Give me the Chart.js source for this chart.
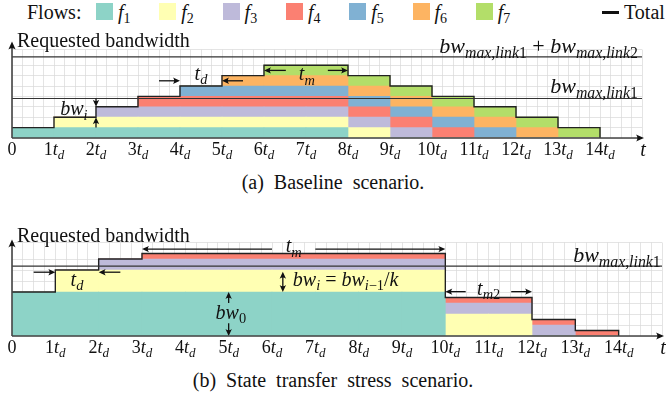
<!DOCTYPE html>
<html>
<head>
<meta charset="utf-8">
<script src="https://cdn.jsdelivr.net/npm/chart.js@4.4.1/dist/chart.umd.min.js"></script>
<style>
  body { margin: 0; background: #fff; }
  #page { position: relative; width: 666px; height: 400px; overflow: hidden;
          font-family: "Liberation Serif", "Times New Roman", serif; color: #111; }
  .abs { position: absolute; white-space: nowrap; }
  #legend .txt { top: 0; font-size: 20px; line-height: 24px; }
  #legend .swatch { top: 3px; width: 17px; height: 17px; }
  sub { font-size: 14px; vertical-align: -4px; line-height: 0; }
  .caption { font-size: 20px; line-height: 24px; width: 666px; text-align: center; word-spacing: 5px; }
  .box { position: absolute; left: 0; width: 666px; }
</style>
</head>
<body>
<div id="page">
  <div id="legend">
    <span class="abs txt" style="left:27px">Flows:</span>
    <span class="abs" style="left:602px; top:11px; width:17px; height:2.5px; background:#111"></span>
    <span class="abs txt" style="left:624px">Total</span>
  </div>
  <div class="box" style="top:25px; height:145px"><canvas id="baseChart"></canvas></div>
  <div class="abs caption" style="left:0; top:170px">(a) Baseline scenario.</div>
  <div class="box" style="top:215px; height:150px"><canvas id="stressChart"></canvas></div>
  <div class="abs caption" style="left:0; top:368px">(b) State transfer stress scenario.</div>
</div>
<script>
// time ticks, in units of t_d
const tdTicks = [0, 1, 2, 3, 4, 5, 6, 7, 8, 9, 10, 11, 12, 13, 14];

const flowNames = ["1", "2", "3", "4", "5", "6", "7"];
const flowColors = ["#8dd3c7", "#ffffb3", "#bebada", "#fb8072", "#80b1d3", "#fdb462", "#b3de69"];

// (a) baseline: requested bandwidth per flow, one value per t_d interval (0-1, 1-2, ... 13-14)
const baseF1 = [1, 1, 1, 1, 1, 1, 1, 1, 0, 0, 0, 0, 0, 0];
const baseF2 = [0, 1, 1, 1, 1, 1, 1, 1, 1, 0, 0, 0, 0, 0];
const baseF3 = [0, 0, 1, 1, 1, 1, 1, 1, 1, 1, 0, 0, 0, 0];
const baseF4 = [0, 0, 0, 1, 1, 1, 1, 1, 1, 1, 1, 0, 0, 0];
const baseF5 = [0, 0, 0, 0, 1, 1, 1, 1, 1, 1, 1, 1, 0, 0];
const baseF6 = [0, 0, 0, 0, 0, 1, 1, 1, 1, 1, 1, 1, 1, 0];
const baseF7 = [0, 0, 0, 0, 0, 0, 1, 1, 1, 1, 1, 1, 1, 1];
// total at each tick 0..14 (held until the next tick)
const baseTotal = [1, 2, 3, 4, 5, 6, 7, 7, 6, 5, 4, 3, 2, 1, 0];
const baseLink1 = 3.8;
const baseLink12 = 7.8;

// (b) state transfer stress
const stressF1 = [4, 4, 4, 4, 4, 4, 4, 4, 4, 4, 0, 0, 0, 0];
const stressF2 = [0, 2, 2, 2, 2, 2, 2, 2, 2, 2, 2, 2, 0, 0];
const stressF3 = [0, 0, 1, 1, 1, 1, 1, 1, 1, 1, 1, 1, 1, 0];
const stressF4 = [0, 0, 0, 0.5, 0.5, 0.5, 0.5, 0.5, 0.5, 0.5, 0.5, 0.5, 0.5, 0.5];
const stressTotal = [4, 6, 7, 7.5, 7.5, 7.5, 7.5, 7.5, 7.5, 7.5, 3.5, 3.5, 1.5, 0.5, 0];
const stressLink1 = 6.35;

const SERIF = '"Liberation Serif", "Times New Roman", serif';

// legend
const legendBox = document.getElementById("legend");
flowColors.forEach(function (color, i) {
  const sw = document.createElement("span");
  sw.className = "abs swatch";
  sw.style.left = (96 + i * 63.3) + "px";
  sw.style.background = color;
  legendBox.appendChild(sw);
  const lb = document.createElement("span");
  lb.className = "abs txt";
  lb.style.left = (118 + i * 63.3) + "px";
  lb.innerHTML = "<i>f</i><sub>" + flowNames[i] + "</sub>";
  legendBox.appendChild(lb);
});

// little math typesetter: segments of [text, style], style r / i / s (italic sub) / sr (roman sub)
function segFont(style, size) {
  const sub = style === "s" || style === "sr";
  const it = style === "i" || style === "s";
  const px = sub ? Math.round(size * 7.2) / 10 : size;
  return (it ? "italic " : "") + px + "px " + SERIF;
}
function mathWidth(ctx, segs, size) {
  let w = 0;
  segs.forEach(function (s) { ctx.font = segFont(s[1], size); w += ctx.measureText(s[0]).width; });
  return w;
}
function drawMath(ctx, segs, x, y, size, align) {
  const w = mathWidth(ctx, segs, size);
  let cx = align === "center" ? x - w / 2 : align === "right" ? x - w : x;
  ctx.textAlign = "left";
  ctx.textBaseline = "alphabetic";
  segs.forEach(function (s) {
    ctx.font = segFont(s[1], size);
    const dy = (s[1] === "s" || s[1] === "sr") ? size * 0.22 : 0;
    ctx.fillText(s[0], cx, y + dy);
    cx += ctx.measureText(s[0]).width;
  });
}
function arrow(ctx, x1, y1, x2, y2, L, W) {
  L = L || 7; W = W || 3.2;
  const ang = Math.atan2(y2 - y1, x2 - x1);
  ctx.beginPath();
  ctx.moveTo(x1, y1);
  ctx.lineTo(x2 - Math.cos(ang) * L * 0.7, y2 - Math.sin(ang) * L * 0.7);
  ctx.stroke();
  ctx.save();
  ctx.translate(x2, y2);
  ctx.rotate(ang);
  ctx.beginPath();
  ctx.moveTo(0, 0);
  ctx.lineTo(-L, -W);
  ctx.quadraticCurveTo(-L * 0.65, 0, -L, W);
  ctx.closePath();
  ctx.fill();
  ctx.restore();
}

const T_D = [["t", "i"], ["d", "s"]];
const T_M = [["t", "i"], ["m", "s"]];
const BW_LINK1 = [["bw", "i"], ["max,link", "s"], ["1", "sr"]];
const BW_LINK2 = [["bw", "i"], ["max,link", "s"], ["2", "sr"]];

function makeSketch(notes) {
  return {
    id: "sketch",
    afterDatasetsDraw: function (chart) {
      const ctx = chart.ctx;
      const area = chart.chartArea;
      const xs = chart.scales.x;
      const ys = chart.scales.y;
      const px = function (v) { return xs.getPixelForValue(v); };
      const py = function (v) { return ys.getPixelForValue(v); };
      ctx.save();
      ctx.fillStyle = "#111";

      // capacity lines
      ctx.strokeStyle = "#333";
      ctx.lineWidth = 1.2;
      notes.hlines.forEach(function (h) {
        ctx.beginPath();
        ctx.moveTo(area.left, py(h.value));
        ctx.lineTo(area.right, py(h.value));
        ctx.stroke();
        drawMath(ctx, h.segs, px(h.labelX), py(h.value) + h.dy, 22, "right");
      });

      // annotation arrows and labels
      ctx.strokeStyle = "#111";
      ctx.lineWidth = 1.3;
      notes.arrows.forEach(function (a) {
        arrow(ctx, px(a[0]), py(a[1]), px(a[2]), py(a[3]));
      });
      notes.texts.forEach(function (t) {
        drawMath(ctx, t.segs, px(t.x), py(t.y) + (t.dy || 0), 20, t.align);
      });

      // axes with arrow heads
      ctx.strokeStyle = "#444";
      ctx.fillStyle = "#111";
      ctx.lineWidth = 1.6;
      arrow(ctx, area.left, area.bottom, area.right + 2, area.bottom, 8, 3.6);
      arrow(ctx, area.left, area.bottom, area.left, area.top - notes.yArrow, 8, 3.6);

      // tick labels n t_d
      tdTicks.forEach(function (k) {
        const segs = k === 0 ? [["0", "r"]] : [[String(k), "r"]].concat(T_D);
        drawMath(ctx, segs, px(k), area.bottom + 17, 18, "center");
      });
      drawMath(ctx, [["t", "i"]], area.right + 1, area.bottom + 18, 20, "center");

      // axis title
      ctx.font = "20px " + SERIF;
      ctx.textAlign = "left";
      ctx.textBaseline = "alphabetic";
      ctx.fillText("Requested bandwidth", area.left + 5, area.top + notes.yTitleDy);
      ctx.restore();
    }
  };
}

function barSeries(values) {
  return values.map(function (v, i) { return { x: i + 0.5, y: v }; });
}
function totalSeries(values) {
  return values.map(function (v, i) { return { x: tdTicks[i], y: v }; });
}

function buildChart(canvasId, flows, totals, notes, padding) {
  const datasets = flows.map(function (values, i) {
    return {
      type: "bar",
      label: "f" + flowNames[i],
      data: barSeries(values),
      backgroundColor: flowColors[i],
      borderWidth: 0,
      barPercentage: 1,
      categoryPercentage: 1,
      xAxisID: "x",
      yAxisID: "y"
    };
  });
  datasets.push({
    type: "line",
    label: "Total",
    data: totalSeries(totals),
    stepped: true,
    borderColor: "#222",
    borderWidth: 1.4,
    pointRadius: 0,
    fill: false,
    order: -1,
    xAxisID: "x",
    yAxisID: "y"
  });

  const gridStyle = { color: "#d9d9d9", lineWidth: 0.7, drawTicks: false };
  return new Chart(document.getElementById(canvasId), {
    type: "bar",
    data: { datasets: datasets },
    options: {
      responsive: true,
      maintainAspectRatio: false,
      animation: false,
      events: [],
      layout: { padding: padding },
      plugins: { legend: { display: false }, tooltip: { enabled: false } },
      scales: {
        x: {
          type: "linear", min: 0, max: 15, stacked: true, offset: false, display: false,
          ticks: { stepSize: 1 }, grid: { offset: false }
        },
        xg: {
          type: "linear", position: "bottom", min: 0, max: 15, offset: false,
          ticks: { display: false, stepSize: 0.25 },
          grid: Object.assign({ offset: false }, gridStyle),
          border: { display: false }
        },
        y: {
          min: 0, max: 8.5, stacked: true,
          ticks: { display: false, stepSize: 1 },
          grid: gridStyle,
          border: { display: false }
        }
      }
    },
    plugins: [makeSketch(notes)]
  });
}

const baseNotes = {
  yTitleDy: -3,
  yArrow: 8,
  hlines: [
    { value: baseLink12, labelX: 14.9, dy: -4, segs: BW_LINK1.concat([[" + ", "r"]], BW_LINK2) },
    { value: baseLink1, labelX: 14.9, dy: -5, segs: BW_LINK1 }
  ],
  arrows: [
    [3.5, 5.5, 4, 5.5], [5.5, 5.5, 5, 5.5],
    [6.52, 6.5, 6, 6.5], [7.52, 6.5, 8, 6.5],
    [2, 3.8, 2, 3], [2, 1, 2, 2]
  ],
  texts: [
    { x: 4.5, y: 5.5, dy: -1, align: "center", segs: T_D },
    { x: 7.02, y: 5.55, align: "center", segs: T_M },
    { x: 1.8, y: 2, dy: -2, align: "right", segs: [["bw", "i"], ["i", "s"]] }
  ]
};

const stressNotes = {
  yTitleDy: -1,
  yArrow: 3,
  hlines: [
    { value: stressLink1, labelX: 14.97, dy: -4, segs: BW_LINK1 }
  ],
  arrows: [
    [0.5, 5.8, 1, 5.8], [2.5, 5.8, 2, 5.8],
    [6, 7.9, 3, 7.9], [7, 7.9, 10, 7.9],
    [6.25, 5, 6.25, 5.85], [6.25, 5, 6.25, 4],
    [5, 3, 5, 4], [5, 1.15, 5, 0],
    [10.47, 4.03, 10, 4.03], [11.52, 4.03, 12, 4.03]
  ],
  texts: [
    { x: 1.5, y: 4.55, align: "center", segs: T_D },
    { x: 6.5, y: 7.6, align: "center", segs: T_M },
    { x: 6.48, y: 4.57, align: "left",
      segs: [["bw", "i"], ["i", "s"], [" = ", "r"], ["bw", "i"], ["i", "s"], ["\u22121", "sr"], ["/", "r"], ["k", "i"]] },
    { x: 5.05, y: 1.55, align: "center", segs: [["bw", "i"], ["0", "sr"]] },
    { x: 11, y: 3.72, align: "center", segs: [["t", "i"], ["m", "s"], ["2", "sr"]] }
  ]
};

buildChart("baseChart",
  [baseF1, baseF2, baseF3, baseF4, baseF5, baseF6, baseF7],
  baseTotal, baseNotes,
  { left: 12, right: 24, top: 24.6, bottom: 32 });

buildChart("stressChart",
  [stressF1, stressF2, stressF3, stressF4],
  stressTotal, stressNotes,
  { left: 12, right: 4, top: 27.5, bottom: 29 });
</script>
</body>
</html>
